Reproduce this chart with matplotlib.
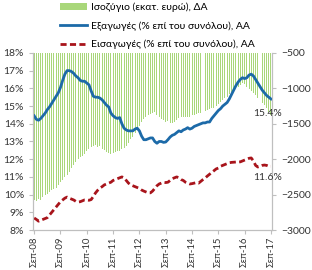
import matplotlib
matplotlib.use('Agg')
import matplotlib.pyplot as plt

plt.rcParams['font.family'] = ['Lato', 'DejaVu Sans']

# monthly data, Sep-08 .. Sep-17
exports = [14.45, 14.25, 14.2, 14.3, 14.45, 14.6, 14.8, 14.95, 15.15, 15.35, 15.55, 15.75,
           16.05, 16.45, 16.8, 17.0, 17.0, 16.95, 16.85, 16.7, 16.6, 16.45, 16.4, 16.4,
           16.3, 16.2, 15.85, 15.55, 15.5, 15.5, 15.45, 15.35, 15.2, 15.05, 14.95, 14.6,
           14.45, 14.35, 14.3, 14.35, 14.0, 13.75, 13.65, 13.6, 13.6, 13.6, 13.7, 13.75,
           13.6, 13.3, 13.1, 13.1, 13.15, 13.2, 13.2, 13.0, 12.9, 13.0, 13.0, 12.95,
           12.97, 13.1, 13.25, 13.35, 13.4, 13.5, 13.6, 13.55, 13.65, 13.7, 13.78, 13.7,
           13.75, 13.85, 13.9, 13.95, 14.0, 14.05, 14.05, 14.1, 14.1, 14.3, 14.45, 14.6,
           14.75, 14.85, 15.0, 15.1, 15.2, 15.4, 15.65, 15.9, 16.15, 16.35, 16.5, 16.6,
           16.55, 16.6, 16.75, 16.8, 16.7, 16.5, 16.3, 16.1, 15.9, 15.75, 15.6, 15.5, 15.4]

imports = [8.68, 8.6, 8.5, 8.55, 8.6, 8.65, 8.7, 8.85, 9.0, 9.15, 9.3, 9.45,
           9.6, 9.7, 9.8, 9.86, 9.8, 9.75, 9.7, 9.62, 9.58, 9.6, 9.65, 9.7,
           9.7, 9.68, 9.72, 9.9, 10.1, 10.25, 10.37, 10.45, 10.55, 10.6, 10.65, 10.7,
           10.8, 10.85, 10.9, 10.95, 11.0, 10.95, 10.8, 10.65, 10.55, 10.5, 10.45, 10.4,
           10.35, 10.26, 10.2, 10.15, 10.1, 10.1, 10.2, 10.35, 10.5, 10.6, 10.65, 10.7,
           10.68, 10.7, 10.8, 10.9, 10.95, 11.0, 10.95, 10.85, 10.8, 10.7, 10.65, 10.6,
           10.62, 10.65, 10.68, 10.65, 10.75, 10.85, 10.94, 11.05, 11.15, 11.25, 11.35, 11.45,
           11.5, 11.6, 11.65, 11.7, 11.75, 11.8, 11.82, 11.83, 11.84, 11.84, 11.85, 11.9,
           11.95, 12.0, 12.05, 12.07, 11.9, 11.65, 11.56, 11.6, 11.65, 11.67, 11.65, 11.6, 11.6]

balance = [-2580, -2590, -2560, -2570, -2530, -2510, -2490, -2470, -2440, -2420, -2400, -2360,
           -2320, -2290, -2250, -2220, -2180, -2120, -2080, -2040, -2000, -1970, -1950, -1930,
           -1880, -1860, -1830, -1820, -1800, -1830, -1810, -1850, -1870, -1900, -1910, -1930,
           -1910, -1900, -1880, -1880, -1850, -1840, -1820, -1770, -1720, -1680, -1630, -1580,
           -1530, -1480, -1430, -1400, -1380, -1360, -1350, -1340, -1370, -1400, -1430, -1450,
           -1470, -1460, -1490, -1490, -1470, -1440, -1420, -1410, -1400, -1410, -1400, -1400,
           -1380, -1370, -1360, -1350, -1345, -1330, -1320, -1300, -1290, -1280, -1275, -1250,
           -1220, -1190, -1160, -1140, -1120, -1080, -1050, -1020, -1000, -980, -950, -925,
           -940, -980, -1010, -1040, -1065, -1100, -1130, -1165, -1200, -1240, -1280, -1330, -1380]

tick_labels = ['Σεπ-08', 'Σεπ-09', 'Σεπ-10', 'Σεπ-11', 'Σεπ-12', 'Σεπ-13',
               'Σεπ-14', 'Σεπ-15', 'Σεπ-16', 'Σεπ-17']

x = list(range(len(exports)))
green = '#a9d77a'
blue = '#1c6aa8'
red = '#a8141b'

fig = plt.figure(figsize=(3.12, 2.70), dpi=100)
ax = fig.add_axes([0.106, 0.148, 0.766, 0.656])
ax2 = ax.twinx()
ax.set_zorder(ax2.get_zorder() + 1)
ax.patch.set_visible(False)

bars = ax2.bar(x, balance, width=0.45, color=green, linewidth=0, label='Ισοζύγιο (εκατ. ευρώ), ΔΑ')
ax2.set_ylim(-3000, -500)
ax2.set_yticks(range(-3000, -499, 500))

l1, = ax.plot(x, exports, color=blue, lw=2.0, label='Εξαγωγές (% επί του συνόλου), ΑΑ')
l2, = ax.plot(x, imports, color=red, lw=2.0, dashes=(2.2, 1.2), label='Εισαγωγές (% επί του συνόλου), ΑΑ')
ax.set_ylim(8, 18)
ax.set_yticks(range(8, 19))
ax.set_yticklabels([f'{v}%' for v in range(8, 19)])
ax.set_xlim(-0.5, len(x) - 0.5)
ax.set_xticks(range(0, len(x), 12))
ax.set_xticklabels(tick_labels, rotation=90)

ax.annotate(f'{exports[-1]:.1f}%', (x[-1], exports[-1]), xytext=(-13, -12),
            textcoords='offset points', fontsize=7.5, color='#333333')
ax.annotate(f'{imports[-1]:.1f}%', (x[-1], imports[-1]), xytext=(-13, -10),
            textcoords='offset points', fontsize=7.5, color='#333333')

for a in (ax, ax2):
    a.spines['top'].set_visible(False)
    for s in ('left', 'right', 'bottom'):
        a.spines[s].set_color('#bfbfbf')
    a.tick_params(colors='#bfbfbf', labelcolor='#333333', labelsize=7.5, length=3, width=0.8)
ax.tick_params(axis='x', pad=1.5, labelsize=6.8)

fig.legend(handles=[bars, l1, l2], loc='upper left', bbox_to_anchor=(0.18, 1.005),
           frameon=False, fontsize=7.5, handlelength=2.6, labelspacing=0.85,
           handletextpad=0.3, borderaxespad=0)

fig.savefig('out.png', dpi=100)
